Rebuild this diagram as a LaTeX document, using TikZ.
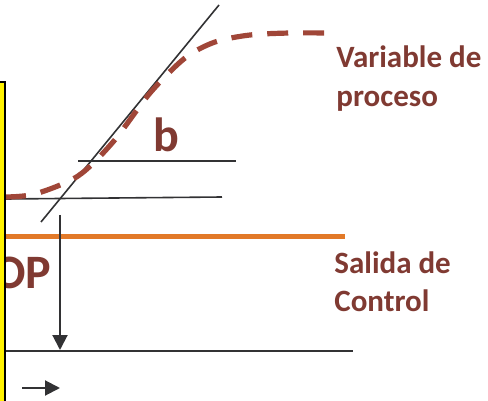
\documentclass[tikz,border=0pt]{standalone}
\usepackage{fontspec}
\setmainfont{Carlito}
\usepackage{xcolor}
\usetikzlibrary{arrows.meta,positioning}

\definecolor{labelbrown}{RGB}{128,58,50}
\definecolor{curvebrown}{RGB}{160,70,56}
\definecolor{ctrlorange}{RGB}{226,121,40}
\definecolor{linegray}{RGB}{50,50,52}

\begin{document}
\begin{tikzpicture}[x=0.5pt, y=-0.5pt,
  thinline/.style={line width=0.8pt, linegray},
  arrowline/.style={line width=1pt, linegray, -{Triangle[length=7.5pt, width=7.5pt]}},
  bigtext/.style={font=\fontsize{24}{28}\selectfont\bfseries, text=labelbrown, inner sep=0pt},
  sidetext/.style={font=\fontsize{15.5}{19.5}\selectfont\bfseries, text=labelbrown, inner sep=0pt, align=left}]
  \useasboundingbox (0,0) rectangle (488,401);

  % Labels
  \node[bigtext, anchor=base west] (opLabel) at (-7,288) {OP};
  \node[bigtext, anchor=base west] (bLabel) at (153,152) {b};
  \node[sidetext, anchor=base west] (pvLabel) at (336,107) {Variable de\\proceso};
  \node[sidetext, anchor=base west] (coLabel) at (334,312) {Salida de\\Control};

  % Reference lines
  \draw[thinline] (41,222) -- (219,5);
  \draw[thinline] (78,161) -- (236,161);
  \draw[thinline] (6,199) -- (222,197);
  \draw[thinline] (6,351) -- (353,351);

  % Controller output
  \draw[ctrlorange, line width=2.5pt] (6,237) -- (345,237);

  % Process variable (dashed)
  \draw[curvebrown, line width=2.6pt, dash pattern=on 10.5pt off 7.5pt]
    plot[smooth] coordinates {(5,197) (35,194) (78,176) (113,142) (150,93) (185,58) (215,42) (250,35) (290,33) (332,33)};

  % Arrows
  \coordinate (armTop) at (60,215);
  \coordinate (armBot) at (60,350);
  \draw[arrowline] (armTop) -- (armBot);
  \coordinate (timeStart) at (22,388);
  \coordinate (timeEnd) at (60,388);
  \draw[arrowline] (timeStart) -- (timeEnd);

  % Yellow bar
  \filldraw[fill=yellow, draw=black, line width=1pt] (-5,82) rectangle (5,410);
\end{tikzpicture}
\end{document}
